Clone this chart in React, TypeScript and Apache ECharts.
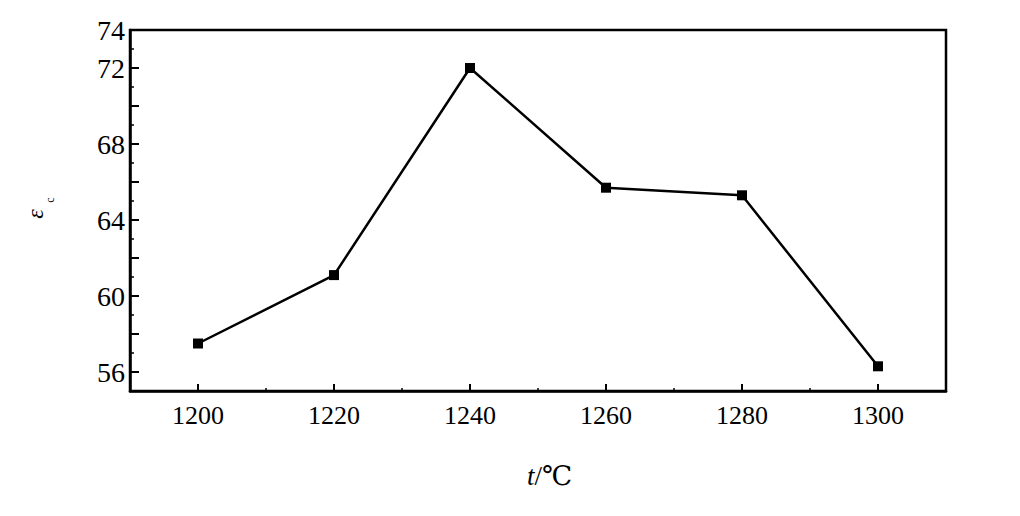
import React, { useEffect, useRef } from "react";
import * as echarts from "echarts";

const temperatures = [1200, 1220, 1240, 1260, 1280, 1300];
const epsilonC = [57.5, 61.1, 72.0, 65.7, 65.3, 56.3];
const xTickLabels = [1200, 1220, 1240, 1260, 1280, 1300];
const xMinorTicks = [1210, 1230, 1250, 1270, 1290];
const yTickLabels = [56, 60, 64, 68, 72, 74];
const yMajorTicks = [56, 58, 60, 62, 64, 66, 68, 70, 72];
const yMinorTicks = [57, 59, 61, 63, 65, 67, 69, 71, 73];

const FONT = "'Liberation Serif', 'DejaVu Serif', serif";

export default function App() {
  const ref = useRef<HTMLDivElement>(null);
  useEffect(() => {
    if (!ref.current) return;
    const chart = echarts.init(ref.current, null, { renderer: "svg" });
    const data = temperatures.map((t, i) => [t, epsilonC[i]]);
    const baseX = {
      type: "value" as const,
      min: 1190,
      max: 1310,
      position: "bottom" as const,
      splitLine: { show: false },
    };
    const baseY = {
      type: "value" as const,
      min: 55,
      max: 74,
      position: "left" as const,
      splitLine: { show: false },
    };
    chart.setOption({
      animation: false,
      backgroundColor: "#ffffff",
      textStyle: { fontFamily: FONT },
      grid: {
        left: 130,
        top: 30,
        right: 74,
        bottom: 125,
        show: true,
        borderColor: "#000",
        borderWidth: 2.5,
        backgroundColor: "transparent",
      },
      xAxis: [
        {
          ...baseX,
          axisLine: { show: true, lineStyle: { color: "#000", width: 2.5 } },
          axisTick: {
            show: true,
            inside: true,
            length: 7,
            customValues: xTickLabels,
            lineStyle: { color: "#000", width: 2 },
          },
          axisLabel: {
            show: true,
            customValues: xTickLabels,
            formatter: (v: number) => String(v),
            margin: 11,
            color: "#000",
            fontFamily: FONT,
            fontSize: 26,
          },
        },
        {
          ...baseX,
          axisLine: { show: false },
          axisTick: {
            show: true,
            inside: true,
            length: 3,
            customValues: xMinorTicks,
            lineStyle: { color: "#000", width: 1.5 },
          },
          axisLabel: { show: false },
        },
      ],
      yAxis: [
        {
          ...baseY,
          axisLine: { show: true, lineStyle: { color: "#000", width: 2.5 } },
          axisTick: {
            show: true,
            inside: true,
            length: 9,
            customValues: yMajorTicks,
            lineStyle: { color: "#000", width: 2 },
          },
          axisLabel: {
            show: true,
            customValues: yTickLabels,
            formatter: (v: number) => String(v),
            margin: 5,
            color: "#000",
            fontFamily: FONT,
            fontSize: 28,
          },
        },
        {
          ...baseY,
          axisLine: { show: false },
          axisTick: {
            show: true,
            inside: true,
            length: 4,
            customValues: yMinorTicks,
            lineStyle: { color: "#000", width: 1.5 },
          },
          axisLabel: { show: false },
        },
      ],
      graphic: [
        {
          type: "text",
          left: 527,
          top: 462,
          style: {
            text: "{t|t}{u|/℃}",
            rich: {
              t: { fontFamily: FONT, fontStyle: "italic", fontSize: 27, fill: "#000" },
              u: { fontFamily: FONT, fontSize: 27, fill: "#000" },
            },
            fontFamily: FONT,
            fontSize: 27,
            fill: "#000",
          },
        },
        {
          type: "text",
          x: 35,
          y: 214,
          rotation: Math.PI / 2,
          style: {
            text: "ε",
            fontFamily: FONT,
            fontStyle: "italic",
            fontSize: 24,
            fill: "#000",
            align: "center",
            verticalAlign: "middle",
          },
        },
        {
          type: "text",
          x: 50,
          y: 200,
          rotation: Math.PI / 2,
          style: {
            text: "c",
            fontFamily: FONT,
            fontSize: 12,
            fill: "#000",
            align: "center",
            verticalAlign: "middle",
          },
        },
      ],
      series: [
        {
          type: "line",
          data,
          xAxisIndex: 0,
          yAxisIndex: 0,
          symbol: "rect",
          symbolSize: 10,
          lineStyle: { color: "#000", width: 2.5 },
          itemStyle: { color: "#000" },
        },
      ],
    });
    return () => chart.dispose();
  }, []);
  return (
    <div
      ref={ref}
      style={{ position: "fixed", left: 0, top: 0, width: 1020, height: 516 }}
    />
  );
}
